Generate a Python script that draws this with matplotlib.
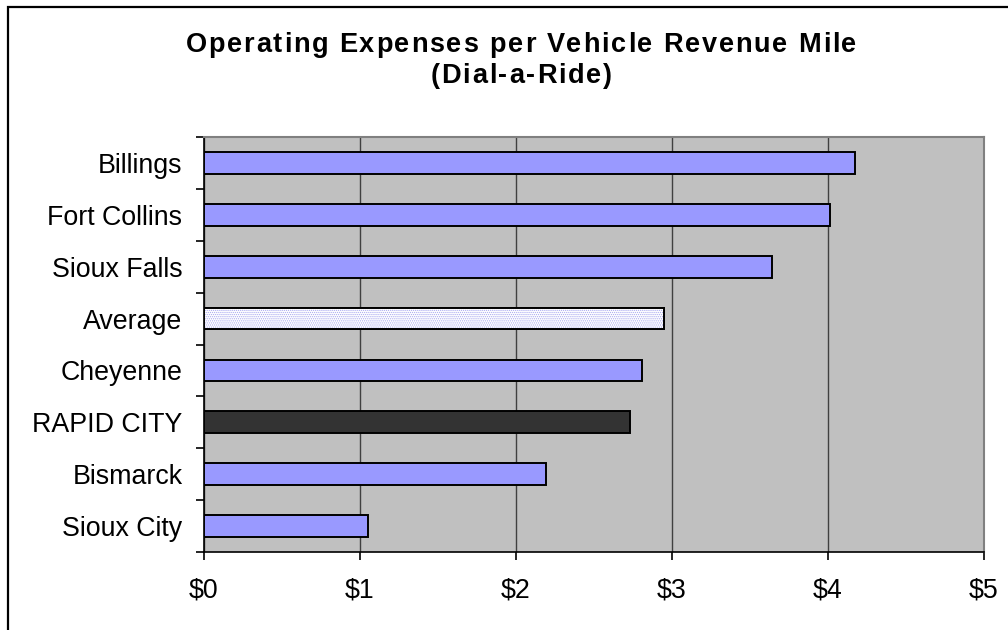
import matplotlib

matplotlib.use("Agg")

import matplotlib.pyplot as plt
import numpy as np
from matplotlib import font_manager, ft2font
from matplotlib.font_manager import FontProperties
from matplotlib.patches import Rectangle
from matplotlib.ticker import FixedLocator, FuncFormatter

plt.rcParams["font.family"] = ["Liberation Sans", "DejaVu Sans"]
plt.rcParams["hatch.linewidth"] = 0.6

# Dial-a-ride operating cost per vehicle revenue mile, top to bottom
cities = ["Billings", "Fort Collins", "Sioux Falls", "Average", "Cheyenne",
          "RAPID CITY", "Bismarck", "Sioux City"]
cost = [4.17, 4.01, 3.64, 2.95, 2.81, 2.73, 2.19, 1.05]

x_ticks = [0, 1, 2, 3, 4, 5]

title_lines = ["Operating Expenses per Vehicle Revenue Mile", "(Dial-a-Ride)"]

PERIWINKLE = "#9999ff"
HIGHLIGHT = "#333333"
W, H, DPI = 1008, 630, 100


def bar_colour(name: str) -> str:
    if name == "RAPID CITY":
        return HIGHLIGHT
    if name == "Average":
        return "white"
    return PERIWINKLE


def spaced_text(fig, text, cx, baseline, size, spacing):
    """Centre a bold line at (cx, baseline) px with extra tracking between glyphs."""
    prop = FontProperties(family="Liberation Sans", weight="bold", size=size)
    font = ft2font.FT2Font(font_manager.findfont(prop))
    font.set_size(size, DPI)
    adv = [font.load_char(ord(ch)).linearHoriAdvance / 65536 for ch in text]
    total = sum(adv) + spacing * (len(text) - 1)
    x = cx - total / 2
    for ch, a in zip(text, adv):
        if ch != " ":
            fig.text(x / W, 1 - baseline / H, ch, fontproperties=prop,
                     ha="left", va="baseline")
        x += a + spacing


fig = plt.figure(figsize=(W / DPI, H / DPI), dpi=DPI)
fig.patch.set_facecolor("white")

# chart border, open at right and bottom edges
fig.patches.append(Rectangle((8 / W, -0.1), 1.2, 1.1 - 7 / H,
                             transform=fig.transFigure, fill=False,
                             edgecolor="black", lw=1.6, zorder=0))

ax = fig.add_axes([204 / W, 1 - 552 / H, (984 - 204) / W, (552 - 137) / H])
ax.set_facecolor("#c0c0c0")

y = np.arange(len(cities))
colours = [bar_colour(c) for c in cities]
ax.barh(y, cost, height=0.42, color=colours, edgecolor="black",
        linewidth=1.4, zorder=3)

# light dither inside the average bar, outline redrawn on top
i_avg = cities.index("Average")
ax.barh(y[i_avg], cost[i_avg], height=0.42, color="white", edgecolor="#a8a8f0",
        linewidth=0, hatch="........", zorder=4)
ax.barh(y[i_avg], cost[i_avg], height=0.42, fill=False, edgecolor="black",
        linewidth=1.4, zorder=5)

ax.set_xlim(0, 5)
ax.set_ylim(len(cities) - 0.5, -0.5)

ax.xaxis.set_major_locator(FixedLocator(x_ticks))
ax.xaxis.set_major_formatter(FuncFormatter(lambda v, _: f"${v:.0f}"))
ax.grid(axis="x", color="#404040", lw=1.0, zorder=1)
ax.set_axisbelow(True)

ax.set_yticks(y)
ax.set_yticklabels(cities)
ax.yaxis.set_minor_locator(FixedLocator(np.arange(-0.5, len(cities), 1.0)))
ax.tick_params(axis="y", which="major", length=0, pad=15.5, labelsize=19.3)
ax.tick_params(axis="y", which="minor", length=6, width=1.2, color="black")
ax.tick_params(axis="x", length=6, width=1.2, pad=12, labelsize=19.3)

for side in ("top", "right"):
    ax.spines[side].set_color("#808080")
    ax.spines[side].set_linewidth(1.5)
for side in ("left", "bottom"):
    ax.spines[side].set_color("black")
    ax.spines[side].set_linewidth(1.2)

spaced_text(fig, title_lines[0], 521, 52, 19.5, 1.8)
spaced_text(fig, title_lines[1], 521, 83, 19.5, 1.8)

fig.savefig("out.png", dpi=DPI)
plt.close(fig)
